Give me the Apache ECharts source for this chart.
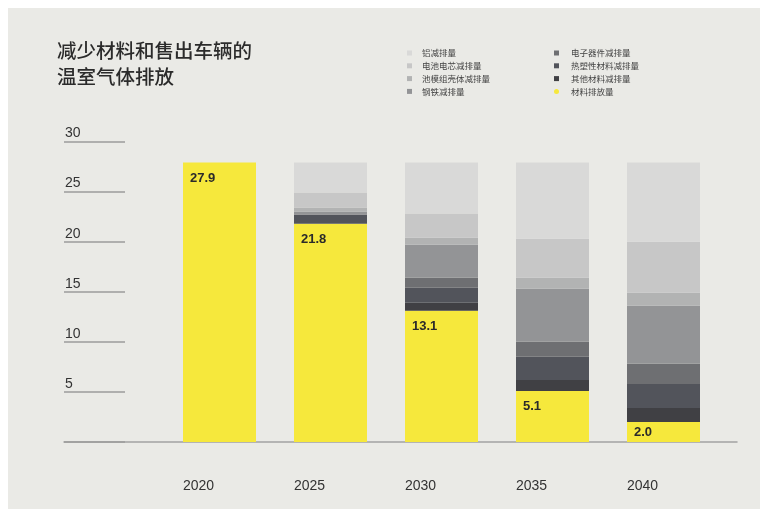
<!DOCTYPE html>
<html>
<head>
<meta charset="utf-8">
<script src="https://cdn.jsdelivr.net/npm/echarts@6/dist/echarts.min.js"></script>
<style>
  html, body { margin: 0; padding: 0; background: #ffffff; }
  #chart { width: 760px; height: 509px; }
</style>
</head>
<body>
<div id="chart"></div>
<script>
// ---- Data ----
const years = ['2020', '2025', '2030', '2035', '2040'];
const yTicks = [0, 5, 10, 15, 20, 25, 30];
const materialEmissions      = [27.9, 21.8, 13.1, 5.1, 2.0]; // 材料排放量
const otherReduction         = [0, 0, 0.8, 1.1, 1.4];        // 其他材料减排量
const thermoplasticReduction = [0, 0.9, 1.5, 2.3, 2.4];      // 热塑性材料减排量
const electronicsReduction   = [0, 0, 1.0, 1.5, 2.0];        // 电子器件减排量
const steelReduction         = [0, 0.3, 3.3, 5.3, 5.8];      // 钢铁减排量
const moduleHousingReduction = [0, 0.4, 0.7, 1.1, 1.3];      // 池模组壳体减排量
const cellReduction          = [0, 1.5, 2.4, 3.9, 5.1];      // 电池电芯减排量
const aluminumReduction      = [0, 3.0, 5.1, 7.6, 7.9];      // 铝减排量

const chart = echarts.init(document.getElementById('chart'), null, { renderer: 'canvas' });

const cjk = '"Noto Sans CJK SC", "Noto Sans", sans-serif';
const latin = '"Liberation Sans", Arial, sans-serif';

function graySeries(name, data, color) {
  return {
    name, type: 'bar', stack: 'total', xAxisIndex: 0, yAxisIndex: 0,
    barWidth: 73, data, itemStyle: { color }, emphasis: { disabled: true }
  };
}

const option = {
  backgroundColor: '#ffffff',
  animation: false,
  graphic: [{
    type: 'rect', z: -100, silent: true,
    shape: { x: 8, y: 8, width: 752, height: 501 },
    style: { fill: '#eaeae6' }
  }],
  title: {
    text: '减少材料和售出车辆的\n温室气体排放',
    left: 57, top: 38, padding: 0,
    textStyle: { fontFamily: cjk, fontSize: 19.5, lineHeight: 26, fontWeight: 500, color: '#2b2b2b' }
  },
  legend: [
    {
      orient: 'vertical', left: 407, top: 48, padding: 0, itemGap: 2.8,
      itemWidth: 5, itemHeight: 5, icon: 'rect',
      textStyle: { fontFamily: cjk, fontSize: 8.5, lineHeight: 10, color: '#444', padding: [0, 0, 0, 5] },
      data: ['铝减排量', '电池电芯减排量', '池模组壳体减排量', '钢铁减排量']
    },
    {
      orient: 'vertical', left: 554, top: 48, padding: 0, itemGap: 2.8,
      itemWidth: 5, itemHeight: 5, icon: 'rect',
      textStyle: { fontFamily: cjk, fontSize: 8.5, lineHeight: 10, color: '#444', padding: [0, 0, 0, 7] },
      data: ['电子器件减排量', '热塑性材料减排量', '其他材料减排量', { name: '材料排放量', icon: 'circle' }]
    }
  ],
  grid: [
    { left: 164, right: 41, top: 141.5, bottom: 67 },
    { left: 64, right: 23, top: 141.5, bottom: 67 }
  ],
  xAxis: [
    {
      type: 'category', gridIndex: 0, data: years,
      axisLine: { show: false }, axisTick: { show: false },
      axisLabel: {
        margin: 37, fontFamily: latin, fontSize: 14, color: '#333',
        align: 'center', padding: [0, 42, 0, 0]
      }
    },
    {
      type: 'category', gridIndex: 1, data: ['a'],
      axisLine: { show: true, lineStyle: { color: '#a3a3a3', width: 1.5 } },
      axisTick: { show: false }, axisLabel: { show: false }
    }
  ],
  yAxis: [
    {
      type: 'value', gridIndex: 0, min: 0, max: 30, interval: 5,
      show: false, splitLine: { show: false }
    },
    {
      type: 'value', gridIndex: 1, min: 0, max: 30, interval: 5,
      axisLine: { show: false },
      axisTick: { show: true, inside: true, length: 61, lineStyle: { color: '#9c9c9c', width: 1.5 } },
      splitLine: { show: false },
      axisLabel: {
        inside: true, margin: 1, align: 'left', verticalAlign: 'bottom',
        fontFamily: latin, fontSize: 14, lineHeight: 16, color: '#333',
        formatter: v => (yTicks.includes(v) && v !== 0) ? String(v) : ''
      }
    }
  ],
  series: [
    {
      name: '材料排放量', type: 'bar', stack: 'total', xAxisIndex: 0, yAxisIndex: 0,
      barWidth: 73, itemStyle: { color: '#f6e83c' }, emphasis: { disabled: true },
      label: {
        show: true, position: [7, 9], fontFamily: latin, fontSize: 13, fontWeight: 'bold',
        color: '#2a2a2a', formatter: p => p.value.toFixed(1)
      },
      data: materialEmissions.map(v => v < 3 ? { value: v, label: { position: 'insideLeft', distance: 7 } } : v)
    },
    graySeries('其他材料减排量', otherReduction, '#404044'),
    graySeries('热塑性材料减排量', thermoplasticReduction, '#52545b'),
    graySeries('电子器件减排量', electronicsReduction, '#6e6f72'),
    graySeries('钢铁减排量', steelReduction, '#939496'),
    graySeries('池模组壳体减排量', moduleHousingReduction, '#b2b3b3'),
    graySeries('电池电芯减排量', cellReduction, '#c7c7c7'),
    graySeries('铝减排量', aluminumReduction, '#d9d9d8')
  ]
};

chart.setOption(option);
</script>
</body>
</html>
